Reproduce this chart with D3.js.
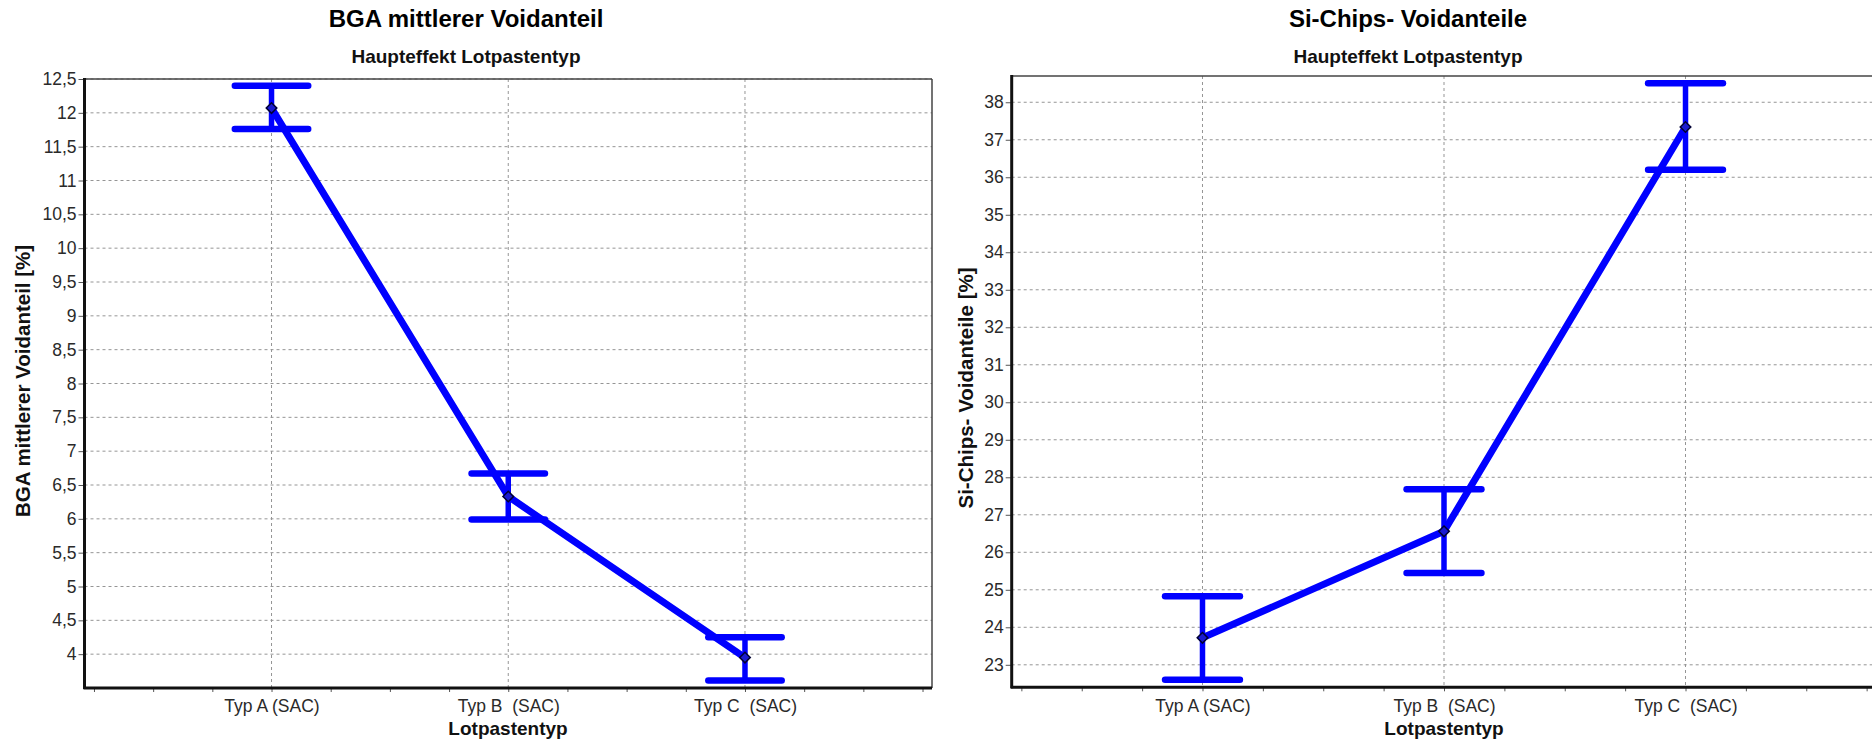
<!DOCTYPE html>
<html>
<head>
<meta charset="utf-8">
<script src="https://cdn.jsdelivr.net/npm/d3@7/dist/d3.min.js"></script>
<style>
  html, body { margin: 0; padding: 0; background: #ffffff; }
  svg { display: block; font-family: "Liberation Sans", Arial, sans-serif; }
  text { white-space: pre; }
</style>
</head>
<body>
<svg id="chart" width="1872" height="742"></svg>
<script>
// Lotpastentyp categories (shared by both panels)
const categories = ["Typ A (SAC)", "Typ B  (SAC)", "Typ C  (SAC)"];

// BGA mittlerer Voidanteil [%] – means and interval limits
const bgaMean  = [12.07, 6.33, 3.95];
const bgaUpper = [12.40, 6.67, 4.25];
const bgaLower = [11.76, 5.99, 3.61];
const bgaTicks = [4, 4.5, 5, 5.5, 6, 6.5, 7, 7.5, 8, 8.5, 9, 9.5, 10, 10.5, 11, 11.5, 12, 12.5];
const bgaDomain = [3.5, 12.5];

// Si-Chips- Voidanteile [%] – means and interval limits
const siMean  = [23.72, 26.56, 37.34];
const siUpper = [24.83, 27.68, 38.51];
const siLower = [22.60, 25.45, 36.20];
const siTicks = [23, 24, 25, 26, 27, 28, 29, 30, 31, 32, 33, 34, 35, 36, 37, 38];
const siDomain = [22.4, 38.7];

// German number formatting (decimal comma)
const de = d3.formatLocale({ decimal: ",", thousands: ".", grouping: [3], currency: ["", " €"] });
const fmt = de.format("~g");

const svg = d3.select("#chart");
const BLUE = "#0000ff";
const FONT = "'Liberation Sans', Arial, sans-serif";

function drawPanel(cfg) {
  const g = svg.append("g");
  const x = d3.scaleLinear().domain([-0.79, 2.79]).range([cfg.left, cfg.right]);
  const y = d3.scaleLinear().domain(cfg.domain).range([cfg.bottom, cfg.top]);

  // horizontal grid
  g.append("g").selectAll("line").data(cfg.ticks).join("line")
    .attr("x1", cfg.left).attr("x2", cfg.right)
    .attr("y1", d => y(d)).attr("y2", d => y(d))
    .attr("stroke", "#959595").attr("stroke-width", 1).attr("stroke-dasharray", "3,3");

  // vertical grid at categories
  g.append("g").selectAll("line").data(categories.map((c, i) => i)).join("line")
    .attr("x1", d => x(d)).attr("x2", d => x(d))
    .attr("y1", cfg.top).attr("y2", cfg.bottom)
    .attr("stroke", "#959595").attr("stroke-width", 1).attr("stroke-dasharray", "3,3");

  // top and right frame
  g.append("line").attr("x1", cfg.left).attr("x2", cfg.right).attr("y1", cfg.top).attr("y2", cfg.top)
    .attr("stroke", "#444").attr("stroke-width", 1.5);
  g.append("line").attr("x1", cfg.right).attr("x2", cfg.right).attr("y1", cfg.top).attr("y2", cfg.bottom)
    .attr("stroke", "#444").attr("stroke-width", 1.5);

  // y axis
  const yAxis = g.append("g").attr("transform", `translate(${cfg.left},0)`)
    .call(d3.axisLeft(y).tickValues(cfg.ticks).tickFormat(fmt).tickSize(6).tickPadding(2));
  yAxis.select(".domain").remove();
  yAxis.selectAll(".tick line").attr("stroke", "#555");
  yAxis.selectAll(".tick text").attr("fill", "#2a2a2a").style("font-size", "17.5px")
    .style("font-family", FONT);

  // x axis minor ticks
  const minor = d3.range(-0.75, 2.76, 0.25);
  const xMinor = g.append("g").attr("transform", `translate(0,${cfg.bottom})`)
    .call(d3.axisBottom(x).tickValues(minor).tickFormat("").tickSize(4));
  xMinor.select(".domain").remove();
  xMinor.selectAll(".tick line").attr("stroke", "#555");

  // x axis category labels
  const xLab = g.append("g").attr("transform", `translate(0,${cfg.bottom})`)
    .call(d3.axisBottom(x).tickValues([0, 1, 2]).tickFormat(i => categories[i]).tickSize(0).tickPadding(12));
  xLab.select(".domain").remove();
  xLab.selectAll(".tick text").attr("fill", "#2a2a2a").style("font-size", "17.5px")
    .style("font-family", FONT);

  // main axis lines
  g.append("line").attr("x1", cfg.left).attr("x2", cfg.left).attr("y1", cfg.top - 1).attr("y2", cfg.bottom + 1)
    .attr("stroke", "#111").attr("stroke-width", 3);
  g.append("line").attr("x1", cfg.left - 1).attr("x2", cfg.right).attr("y1", cfg.bottom).attr("y2", cfg.bottom)
    .attr("stroke", "#111").attr("stroke-width", 3);

  // connecting line of means
  const idx = cfg.mean.map((m, i) => i);
  g.append("path").datum(idx)
    .attr("d", d3.line().x(i => x(i)).y(i => y(cfg.mean[i])))
    .attr("fill", "none").attr("stroke", BLUE).attr("stroke-width", 7)
    .attr("stroke-linejoin", "round").attr("stroke-linecap", "round");

  // interval bars
  const capHalf = 0.155;
  const bars = g.append("g").selectAll("g").data(idx).join("g");
  bars.append("line")
    .attr("x1", i => x(i)).attr("x2", i => x(i))
    .attr("y1", i => y(cfg.upper[i])).attr("y2", i => y(cfg.lower[i]))
    .attr("stroke", BLUE).attr("stroke-width", 5.5);
  bars.append("line")
    .attr("x1", i => x(i - capHalf)).attr("x2", i => x(i + capHalf))
    .attr("y1", i => y(cfg.upper[i])).attr("y2", i => y(cfg.upper[i]))
    .attr("stroke", BLUE).attr("stroke-width", 6.5).attr("stroke-linecap", "round");
  bars.append("line")
    .attr("x1", i => x(i - capHalf)).attr("x2", i => x(i + capHalf))
    .attr("y1", i => y(cfg.lower[i])).attr("y2", i => y(cfg.lower[i]))
    .attr("stroke", BLUE).attr("stroke-width", 6.5).attr("stroke-linecap", "round");

  // mean markers (diamonds)
  g.append("g").selectAll("path").data(idx).join("path")
    .attr("transform", i => `translate(${x(i)},${y(cfg.mean[i])}) rotate(45)`)
    .attr("d", d3.symbol(d3.symbolSquare, 56))
    .attr("fill", "#1a1ad0").attr("stroke", "#000033").attr("stroke-width", 1.5);

  // titles
  g.append("text").attr("x", cfg.titleX).attr("y", 27).attr("text-anchor", "middle")
    .style("font-size", "24px").style("font-weight", "bold").attr("fill", "#000").text(cfg.title);
  g.append("text").attr("x", cfg.titleX).attr("y", 63).attr("text-anchor", "middle")
    .style("font-size", "19px").style("font-weight", "bold").attr("fill", "#111").text("Haupteffekt Lotpastentyp");

  // axis titles
  g.append("text").attr("x", cfg.xTitleX).attr("y", 735).attr("text-anchor", "middle")
    .style("font-size", "19px").style("font-weight", "bold").attr("fill", "#111").text("Lotpastentyp");
  g.append("text").attr("transform", `translate(${cfg.yTitleX},${cfg.yTitleY}) rotate(-90)`)
    .attr("text-anchor", "middle").attr("dy", "0.36em")
    .style("font-size", "20.5px").style("font-weight", "bold").attr("fill", "#111").text(cfg.yTitle);
}

drawPanel({
  left: 84.5, right: 932, top: 79, bottom: 688,
  domain: bgaDomain, ticks: bgaTicks,
  mean: bgaMean, upper: bgaUpper, lower: bgaLower,
  title: "BGA mittlerer Voidanteil", titleX: 466, xTitleX: 508,
  yTitle: "BGA mittlerer Voidanteil [%]", yTitleX: 23, yTitleY: 381
});

drawPanel({
  left: 1011.7, right: 1876.3, top: 76, bottom: 687.3,
  domain: siDomain, ticks: siTicks,
  mean: siMean, upper: siUpper, lower: siLower,
  title: "Si-Chips- Voidanteile", titleX: 1408, xTitleX: 1444,
  yTitle: "Si-Chips- Voidanteile [%]", yTitleX: 966, yTitleY: 388
});
</script>
</body>
</html>
